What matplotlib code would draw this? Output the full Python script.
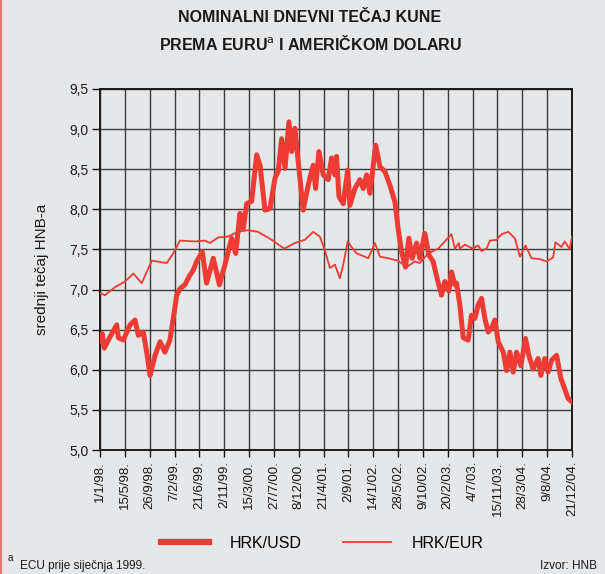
import numpy as np
import matplotlib
matplotlib.use("Agg")
import matplotlib.pyplot as plt
from matplotlib.lines import Line2D

# ─── podaci (dani od 1/1/1998, srednji tečaj) ───
usd_days = [5, 12, 23, 54, 90, 99, 126, 162, 189, 207, 233, 252, 270, 297, 324,
            350, 377, 395, 414, 431, 458, 485, 503, 521, 552, 575, 611, 644, 674,
            710, 732, 755, 773, 791, 818, 845, 863, 890, 917, 944, 961, 980, 998,
            1019, 1034, 1051, 1073, 1096, 1123, 1150, 1163, 1181, 1204, 1231, 1249,
            1267, 1276, 1289, 1312, 1336, 1348, 1375, 1402, 1420, 1438, 1456, 1474,
            1487, 1510, 1537, 1564, 1591, 1608, 1627, 1648, 1666, 1684, 1708, 1725,
            1752, 1774, 1797, 1816, 1842, 1860, 1882, 1896, 1914, 1923, 1941, 1959,
            1986, 2004, 2022, 2040, 2058, 2076, 2094, 2112, 2130, 2148, 2175, 2193,
            2211, 2229, 2247, 2270, 2295, 2313, 2336, 2363, 2378, 2399, 2417, 2436,
            2463, 2486, 2507, 2525, 2546]
usd_vals = [6.35, 6.45, 6.27, 6.41, 6.56, 6.40, 6.37, 6.56, 6.62, 6.43, 6.47, 6.22,
            5.93, 6.18, 6.35, 6.22, 6.37, 6.64, 6.93, 7.01, 7.06, 7.18, 7.24, 7.35,
            7.47, 7.08, 7.39, 7.06, 7.31, 7.64, 7.45, 7.95, 7.76, 8.07, 8.10, 8.68,
            8.55, 7.99, 8.01, 8.39, 8.47, 8.88, 8.51, 9.09, 8.72, 9.01, 8.51, 7.99,
            8.30, 8.55, 8.26, 8.72, 8.43, 8.37, 8.64, 8.43, 8.66, 8.16, 8.07, 8.49,
            8.05, 8.26, 8.37, 8.26, 8.43, 8.20, 8.55, 8.80, 8.53, 8.47, 8.30, 8.09,
            7.76, 7.47, 7.28, 7.64, 7.39, 7.58, 7.39, 7.70, 7.43, 7.35, 7.16, 6.93,
            7.10, 6.98, 7.22, 7.06, 7.08, 6.81, 6.40, 6.37, 6.68, 6.64, 6.81, 6.89,
            6.64, 6.47, 6.52, 6.62, 6.35, 6.22, 5.99, 6.22, 5.97, 6.22, 6.05, 6.39,
            6.18, 6.01, 6.14, 5.93, 6.14, 5.97, 6.12, 6.18, 5.89, 5.76, 5.64, 5.60]

eur_days = [5, 27, 81, 135, 180, 225, 279, 307, 360, 395, 431, 512, 566, 593, 638,
            690, 744, 798, 852, 926, 994, 1051, 1105, 1150, 1186, 1213, 1240, 1267,
            1294, 1312, 1336, 1357, 1384, 1418, 1447, 1483, 1510, 1555, 1607, 1654,
            1698, 1725, 1770, 1824, 1860, 1896, 1914, 1936, 1941, 1968, 2011, 2040,
            2058, 2085, 2103, 2139, 2166, 2202, 2238, 2265, 2295, 2328, 2372, 2409,
            2444, 2457, 2489, 2507, 2534, 2546]
eur_vals = [6.95, 6.93, 7.03, 7.10, 7.20, 7.08, 7.36, 7.35, 7.33, 7.45, 7.61, 7.60,
            7.61, 7.58, 7.65, 7.66, 7.72, 7.74, 7.72, 7.62, 7.51, 7.58, 7.62, 7.72,
            7.66, 7.49, 7.27, 7.31, 7.14, 7.31, 7.60, 7.53, 7.45, 7.42, 7.39, 7.58,
            7.41, 7.39, 7.36, 7.28, 7.35, 7.33, 7.45, 7.51, 7.60, 7.69, 7.51, 7.58,
            7.51, 7.56, 7.51, 7.55, 7.48, 7.51, 7.61, 7.62, 7.69, 7.72, 7.64, 7.41,
            7.55, 7.39, 7.38, 7.35, 7.40, 7.59, 7.53, 7.60, 7.50, 7.66]

tick_labels = ["1/1/98.", "15/5/98.", "26/9/98.", "7/2/99.", "21/6/99.", "2/11/99.",
               "15/3/00.", "27/7/00.", "8/12/00.", "21/4/01.", "2/9/01.", "14/1/02.",
               "28/5/02.", "9/10/02.", "20/2/03.", "4/7/03.", "15/11/03.", "28/3/04.",
               "9/8/04.", "21/12/04."]
tick_days = [134 * i for i in range(len(tick_labels))]
y_ticks = [5.0, 5.5, 6.0, 6.5, 7.0, 7.5, 8.0, 8.5, 9.0, 9.5]

BG = "#E6E7E9"
RED = "#EE3B33"
GRID = "#3C3C3C"
INK = "#1A1A1A"

plt.rcParams['font.family'] = ['Liberation Sans', 'DejaVu Sans']

fig = plt.figure(figsize=(6.05, 5.74), dpi=100)
fig.patch.set_facecolor(BG)
ax = fig.add_axes([100 / 605, 1 - 450 / 574, 472 / 605, 361 / 574])
ax.set_facecolor(BG)

ax.plot(eur_days, eur_vals, color=RED, lw=1.3, zorder=3)
ax.plot(usd_days, usd_vals, color=RED, lw=3.6, zorder=4, solid_joinstyle='round')

ax.set_xlim(0, tick_days[-1])
ax.set_ylim(5.0, 9.5)
ax.set_xticks(tick_days)
ax.set_xticklabels(tick_labels, rotation=90, fontsize=9.5)
ax.set_yticks(y_ticks)
ax.set_yticklabels([f"{v:.1f}".replace(".", ",") for v in y_ticks], fontsize=10)
ax.grid(True, color=GRID, lw=1.0)
ax.set_axisbelow(True)
for s in ax.spines.values():
    s.set_color(INK)
    s.set_linewidth(1.4)
ax.tick_params(axis='y', direction='out', length=6, width=1, color=INK,
               labelcolor=INK, pad=2)
ax.tick_params(axis='x', direction='out', length=5, width=1, color=INK,
               labelcolor=INK, pad=3)
ax.set_ylabel("srednji tečaj HNB-a", fontsize=11, color=INK, labelpad=15)

# naslov
fig.text(310 / 605, 1 - 18 / 574, "NOMINALNI DNEVNI TEČAJ KUNE", ha='center',
         va='center', fontsize=11.5, fontweight='bold', color=INK)
fig.text(310 / 605, 1 - 43 / 574, r"PREMA EURU$^{\rm a}$ I AMERIČKOM DOLARU",
         ha='center', va='center', fontsize=11.5, fontweight='bold', color=INK)

# legenda
handles = [Line2D([], [], color=RED, lw=4.5), Line2D([], [], color=RED, lw=1.3)]
fig.legend(handles, ["HRK/USD", "HRK/EUR"], loc='center',
           bbox_to_anchor=(322 / 605, 1 - 543 / 574), ncol=2, frameon=False,
           fontsize=11.5, handlelength=3.0, columnspacing=2.6, handletextpad=1.3)

# fusnota i izvor
fig.text(8 / 605, 1 - 558 / 574, "a", fontsize=7, color=INK, va='center')
fig.text(20 / 605, 1 - 566 / 574, "ECU prije siječnja 1999.", fontsize=8.5,
         color=INK, va='center')
fig.text(540 / 605, 1 - 566 / 574, "Izvor: HNB", fontsize=8.5, color=INK,
         va='center')

fig.add_artist(Line2D([0.002, 0.002], [0, 1], color="#F07070", lw=1.5,
                      transform=fig.transFigure))

fig.savefig("out.png", dpi=100, facecolor=BG)
